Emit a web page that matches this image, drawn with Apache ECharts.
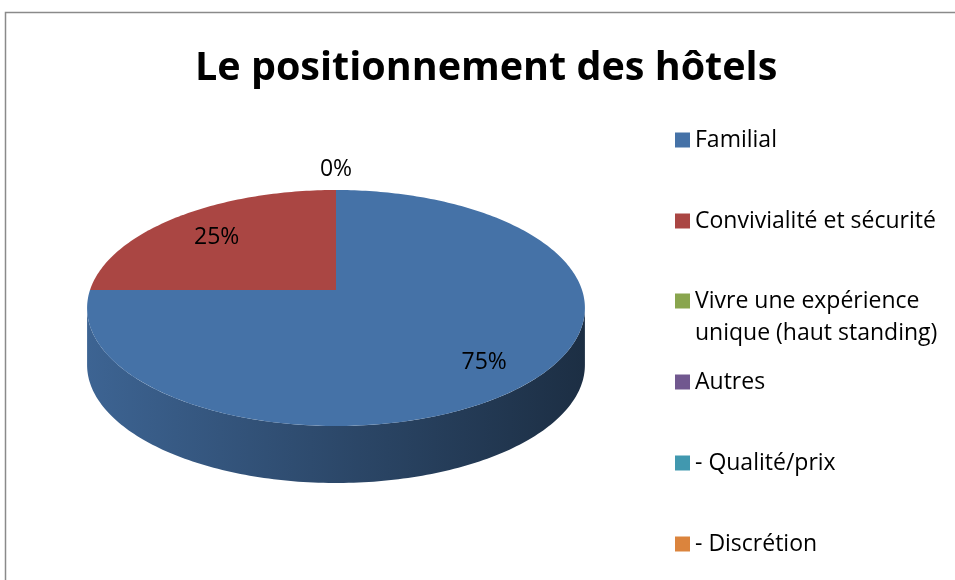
<!DOCTYPE html>
<html>
<head>
<meta charset="utf-8">
<script src="https://cdn.jsdelivr.net/npm/echarts@6/dist/echarts.min.js"></script>
<style>
  html, body { margin: 0; padding: 0; background: #fff; }
  #chart { width: 955px; height: 580px; }
</style>
</head>
<body>
<div id="chart"></div>
<script>
const categories = [
  'Familial',
  'Convivialité et sécurité',
  'Vivre une expérience\nunique (haut standing)',
  'Autres',
  '- Qualité/prix',
  '- Discrétion'
];
const values = [75, 25, 0, 0, 0, 0];
const colors = ['#4572A7', '#AA4643', '#89A54E', '#71588F', '#4198AF', '#DB843D'];

const total = values.reduce((a, b) => a + b, 0);
const starts = values.map((v, i) => values.slice(0, i).reduce((a, b) => a + b, 0));

// 3D pie geometry (perspective ellipse, like the Excel chart)
const cx = 336, cy = 290, rx = 246, ry = 115.25, persp = 0.1525, depth = 57;
const edge = Math.acos(-persp) * 180 / Math.PI; // right silhouette angle, left one is 360 - edge

function project(deg, r, drop) {
  const t = deg * Math.PI / 180;
  const u = r * Math.sin(t), v = -r * Math.cos(t);
  const w = 1 - persp * v;
  return [cx + rx * u / w, cy + ry * v / w + (drop || 0)];
}

function arc(a0, a1, drop) {
  const pts = [];
  const n = Math.max(2, Math.ceil(Math.abs(a1 - a0)));
  for (let j = 0; j <= n; j++) pts.push(project(a0 + (a1 - a0) * j / n, 1, drop));
  return pts;
}

function shade(hex, f) {
  const c = echarts.color.parse(hex);
  return 'rgb(' + [0, 1, 2].map(k => Math.round(c[k] * f)).join(',') + ')';
}

function sideFill(color) {
  return new echarts.graphic.LinearGradient(cx - rx * 1.02, 0, cx + rx * 1.02, 0, [
    { offset: 0, color: shade(color, 0.88) },
    { offset: 0.45, color: shade(color, 0.66) },
    { offset: 1, color: shade(color, 0.4) }
  ], true);
}

const labelFont = '23px "Open Sans"';

function renderSlice(params, api) {
  const i = params.seriesIndex;
  const v = values[i];
  const a0 = starts[i] / total * 360;
  const a1 = (starts[i] + v) / total * 360;
  const children = [];

  if (v > 0) {
    // front wall, only the visible part
    const s = Math.max(a0, edge), e = Math.min(a1, 360 - edge);
    if (e > s) {
      children.push({
        type: 'polygon', z2: 1,
        shape: { points: arc(s, e, 0).concat(arc(e, s, depth)) },
        style: { fill: sideFill(colors[i]) }
      });
    }
    children.push({
      type: 'polygon', z2: 2,
      shape: { points: [[cx, cy]].concat(arc(a0, a1, 0)) },
      style: { fill: colors[i] }
    });
  }

  // data label
  const pct = Math.round(v / total * 100) + '%';
  let pos = null;
  if (v > 0) {
    const rim = project((a0 + a1) / 2, 1, 0);
    pos = [cx + (rim[0] - cx) * 0.76, cy + (rim[1] - cy) * 0.76 + 3];
  } else if (!(i > 0 && values[i - 1] === 0)) {
    pos = project(a0, 1, 0);
    pos[1] -= 21;
  }
  if (pos) {
    children.push({
      type: 'text', z2: 3, x: pos[0], y: pos[1],
      style: { text: pct, font: labelFont, fill: '#000', align: 'center', verticalAlign: 'middle' }
    });
  }
  return { type: 'group', children };
}

const chart = echarts.init(document.getElementById('chart'));

const legendText = { fontFamily: 'Open Sans', fontSize: 23, color: '#000', lineHeight: 30 };
const legendBase = {
  orient: 'vertical', left: 675, padding: 0, itemWidth: 15, itemHeight: 15,
  itemGap: 51, icon: 'rect', selectedMode: false, textStyle: legendText
};

chart.setOption({
  animation: false,
  backgroundColor: '#fff',
  title: {
    text: 'Le positionnement des hôtels',
    left: 190,
    top: 44,
    textStyle: { fontFamily: 'Open Sans', fontWeight: 'bold', fontSize: 39.5, color: '#000' }
  },
  legend: [
    Object.assign({}, legendBase, { top: 125, data: categories.slice(0, 2) }),
    Object.assign({}, legendBase, {
      top: 285,
      itemHeight: 47,
      // square on the first text line, the tiny second subpath only stretches the box
      icon: 'path://M0,0h15v15h-15z M0,46.99h0.01v0.01h-0.01z',
      textStyle: Object.assign({}, legendText, { lineHeight: 32 }),
      data: [categories[2]]
    }),
    Object.assign({}, legendBase, { top: 367, data: categories.slice(3) })
  ],
  graphic: [{
    type: 'rect', silent: true, z: -1,
    shape: { x: 5.5, y: 12.5, width: 1000, height: 1000 },
    style: { fill: 'none', stroke: '#8a8a8a', lineWidth: 1.5 }
  }],
  series: categories.map((name, i) => ({
    type: 'custom',
    name: name,
    coordinateSystem: 'none',
    silent: true,
    itemStyle: { color: colors[i] },
    data: [values[i]],
    renderItem: renderSlice
  }))
});
</script>
</body>
</html>
